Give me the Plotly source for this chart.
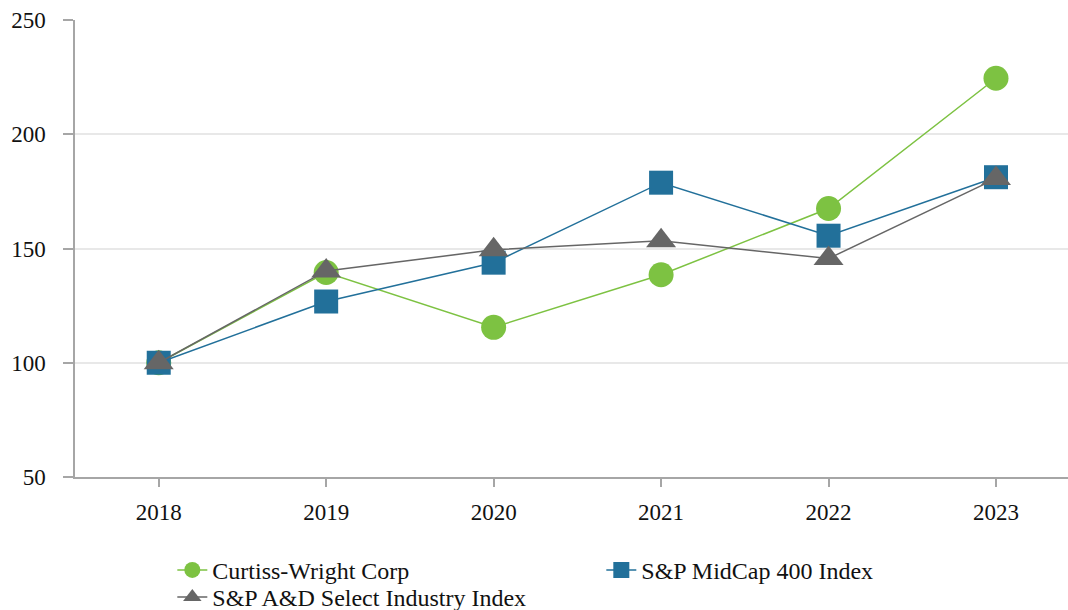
import plotly.graph_objects as go

years = ["2018", "2019", "2020", "2021", "2022", "2023"]
curtiss = [100, 139.5, 115.5, 138.5, 167.5, 224.5]
midcap = [100, 126.8, 143.8, 178.8, 155.6, 181.2]
aandd = [100, 140.2, 149.4, 153.4, 145.6, 180.6]
y_ticks = [50, 100, 150, 200, 250]

GREEN = "#7dc242"
BLUE = "#22709a"
GRAY = "#666666"
FONT = "Liberation Serif"
LEG_FONT = dict(family=FONT, size=24, color="#111111")

fig = go.Figure()
fig.add_trace(go.Scatter(x=years, y=curtiss, name="Curtiss-Wright Corp", mode="lines+markers",
                         line=dict(color=GREEN, width=1.5),
                         marker=dict(symbol="circle", size=25, color=GREEN)))
fig.add_trace(go.Scatter(x=years, y=midcap, name="S&P MidCap 400 Index", mode="lines+markers",
                         line=dict(color=BLUE, width=1.5),
                         marker=dict(symbol="square", size=24, color=BLUE)))
fig.add_trace(go.Scatter(x=years, y=aandd, name="S&P A&D Select Industry Index", mode="lines+markers",
                         line=dict(color=GRAY, width=1.5), legend="legend2",
                         marker=dict(symbol="triangle-up", size=26, color=GRAY)))

fig.update_layout(
    width=1068, height=610,
    margin=dict(l=75, r=0, t=20, b=133, autoexpand=False),
    paper_bgcolor="white", plot_bgcolor="white",
    font=dict(family=FONT, size=23, color="#111111"),
    showlegend=True,
    legend=dict(orientation="h", x=0.098, y=-0.155, xanchor="left", yanchor="top",
                font=LEG_FONT, entrywidth=384, entrywidthmode="pixels",
                bgcolor="rgba(0,0,0,0)", itemsizing="trace", traceorder="normal"),
    legend2=dict(orientation="h", x=0.098, y=-0.2144, xanchor="left", yanchor="top",
                 font=LEG_FONT, bgcolor="rgba(0,0,0,0)", itemsizing="trace"),
    xaxis=dict(type="category", range=[-0.5, 5.43], showline=True, linecolor="#a6a6a6", linewidth=1.5,
               ticks="outside", ticklen=8, tickcolor="#a6a6a6", tickwidth=1.5,
               showgrid=False, zeroline=False, ticklabelstandoff=6,
               tickfont=dict(family=FONT, size=23, color="#111111")),
    yaxis=dict(range=[50, 250], tickvals=y_ticks, showline=True, linecolor="#a6a6a6", linewidth=1.5,
               ticks="outside", ticklen=10, tickcolor="#a6a6a6", tickwidth=1.5,
               showgrid=True, gridcolor="#e8e8e8", gridwidth=1.5, zeroline=False,
               ticklabelstandoff=13,
               tickfont=dict(family=FONT, size=23, color="#111111")),
)

fig.write_html("out.html", config={"displayModeBar": False},
               post_script="document.body.style.margin='0';document.body.style.overflow='hidden';")
